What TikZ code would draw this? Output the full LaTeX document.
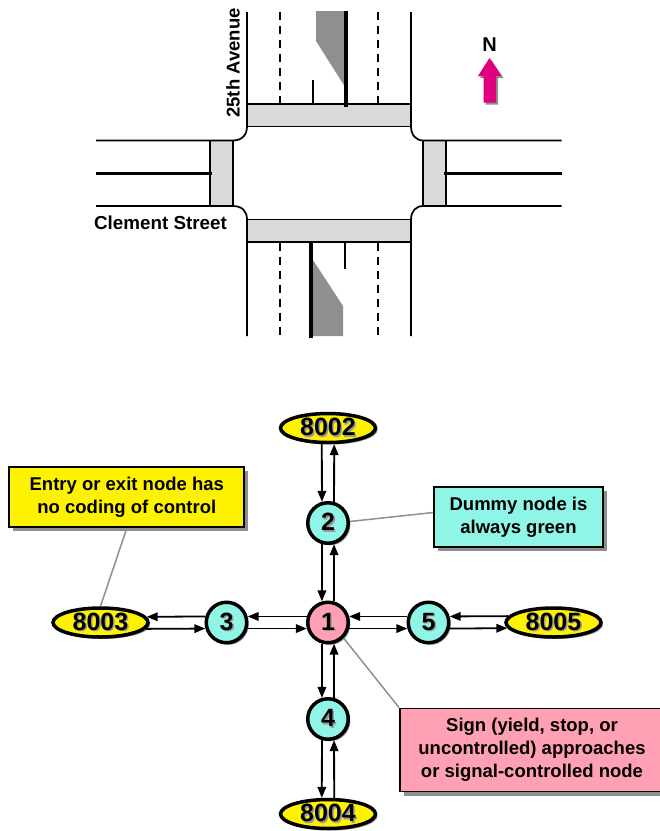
\documentclass[tikz,border=0pt]{standalone}
\usepackage{fontspec}
\setmainfont{Liberation Sans}
\usepackage{tikz}
\usetikzlibrary{arrows.meta,shadows,shapes.geometric}
\definecolor{figaqua}{HTML}{8FF5E6}
\definecolor{figpink}{HTML}{FFA0B4}
\definecolor{figmagenta}{HTML}{E0007F}
\definecolor{figwalk}{HTML}{D9D9D9}
\definecolor{figgray}{HTML}{8F8F8F}
\newcommand{\figshadowed}[1]{\makebox[0pt][l]{\kern1.5pt\raisebox{-1.5pt}{\textcolor{black!40}{#1}}}#1}
\tikzset{
  figroad/.style={line width=1.7pt},
  figmedian/.style={line width=3.7pt},
  figlane/.style={line width=1.7pt, dash pattern=on 8pt off 6pt},
  figwalkbox/.style={fill=figwalk, draw, line width=1.7pt},
  figlabel/.style={font=\fontsize{18.5}{23}\selectfont\bfseries, inner sep=0pt},
  figcircle/.style={circle, draw, line width=3.5pt, minimum size=40.5pt, inner sep=0pt,
    font=\fontsize{25}{25}\selectfont\bfseries,
    drop shadow={shadow xshift=2pt, shadow yshift=-2pt, fill=black!45, opacity=1}},
  fignode/.style={figcircle, fill=figaqua},
  figend/.style={ellipse, draw, line width=3.5pt, fill=yellow, minimum width=95pt, minimum height=29pt,
    inner sep=0pt, font=\fontsize{25}{25}\selectfont\bfseries,
    drop shadow={shadow xshift=2pt, shadow yshift=-2pt, fill=black!45, opacity=1}},
  fignote/.style={draw, line width=1.8pt, align=center, inner sep=0pt,
    font=\fontsize{18.5}{23}\selectfont\bfseries,
    drop shadow={shadow xshift=4pt, shadow yshift=-4pt, fill=figgray, opacity=1}},
  figarrow/.style={-{Triangle[length=11pt, width=8.5pt]}, line width=1.8pt},
  figleader/.style={draw=figgray, line width=1.5pt},
}
\begin{document}
\begin{tikzpicture}[x=1pt, y=-1pt]
  \useasboundingbox (0,0) rectangle (660,831);
  % crosswalks
  \filldraw[figwalkbox] (247,104) rectangle (411,126.5);
  \filldraw[figwalkbox] (247,219.5) rectangle (411,242);
  \filldraw[figwalkbox] (210,140.5) rectangle (232.7,206);
  \filldraw[figwalkbox] (423.3,140.5) rectangle (445.7,206);
  % kerbs and corners
  \draw[figroad] (247,12) -- (247,126.5) .. controls (247,135) and (242,140.5) .. (232.7,140.5) -- (96,140.5);
  \draw[figroad] (411,12) -- (411,126.5) .. controls (411,135) and (416,140.5) .. (423.3,140.5) -- (561.5,140.5);
  \draw[figroad] (96,206) -- (232.7,206) .. controls (242,206) and (247,211) .. (247,219.5) -- (247,336);
  \draw[figroad] (561.5,206) -- (423.3,206) .. controls (416,206) and (411,211) .. (411,219.5) -- (411,336);
  % lanes
  \foreach \xlane in {280,378} {
    \draw[figlane] (\xlane,12) -- (\xlane,104);
    \draw[figlane] (\xlane,242.5) -- (\xlane,336);
  }
  \draw[figroad] (312.7,80) -- (312.7,104);
  \draw[figroad] (345,242) -- (345,268.5);
  \fill[figgray] (316,11) -- (344.5,11) -- (344.5,86) -- (316,41) -- cycle;
  \fill[figgray] (313,260) -- (343,306) -- (343,336) -- (313,336) -- cycle;
  \draw[figmedian] (346,11) -- (346,107);
  \draw[figmedian] (311,241) -- (311,337.5);
  \draw[figmedian] (96,173.5) -- (212,173.5);
  \draw[figmedian] (444,173.5) -- (562,173.5);
  % street names
  \node[figlabel, rotate=90] (avenue) at (233,63) {25th Avenue};
  \node[figlabel, font=\fontsize{18.8}{23}\selectfont\bfseries] (street) at (160.5,222.5) {Clement Street};
  % north arrow
  \node[figlabel, font=\fontsize{20}{23}\selectfont\bfseries] (north) at (489.5,44.5) {N};
  \fill[figgray] (491.5,60) -- (503.5,78) -- (498,78) -- (498,104.5) -- (485.5,104.5) -- (485.5,78) -- (480,78) -- cycle;
  \fill[figmagenta] (489.5,58) -- (501.5,76) -- (496,76) -- (496,102.5) -- (483.5,102.5) -- (483.5,76) -- (478,76) -- cycle;
  % nodes
  \node[figcircle, fill=figpink] (n1) at (328,622.5) {\figshadowed{1}};
  \node[fignode] (n2) at (328,523) {\figshadowed{2}};
  \node[fignode] (n3) at (226.5,622.5) {\figshadowed{3}};
  \node[fignode] (n4) at (328,719) {\figshadowed{4}};
  \node[fignode] (n5) at (428.5,622.5) {\figshadowed{5}};
  \node[figend] (n8002) at (328,428) {\figshadowed{8002}};
  \node[figend] (n8003) at (100.5,622.5) {\figshadowed{8003}};
  \node[figend] (n8004) at (328,814) {\figshadowed{8004}};
  \node[figend] (n8005) at (553.5,622.5) {\figshadowed{8005}};
  % links
  \draw[figarrow] (n8002.249) -- (n2.106);
  \draw[figarrow] (n2.74) -- (n8002.291);
  \draw[figarrow] (n2.254) -- (n1.106);
  \draw[figarrow] (n1.74) -- (n2.286);
  \draw[figarrow] (n1.254) -- (n4.106);
  \draw[figarrow] (n4.74) -- (n1.286);
  \draw[figarrow] (n4.254) -- (n8004.111);
  \draw[figarrow] (n8004.69) -- (n4.286);
  \draw[figarrow] (n1.164) -- (n3.16);
  \draw[figarrow] (n3.344) -- (n1.196);
  \draw[figarrow] (n3.164) -- (n8003.7.5);
  \draw[figarrow] (n8003.352.5) -- (n3.196);
  \draw[figarrow] (n5.164) -- (n1.16);
  \draw[figarrow] (n1.344) -- (n5.196);
  \draw[figarrow] (n8005.172.5) -- (n5.16);
  \draw[figarrow] (n5.344) -- (n8005.187.5);
  % notes
  \node[fignote, fill=yellow, minimum width=235pt, minimum height=60.5pt] (noteentry) at (126.8,497) {Entry or exit node has\\no coding of control};
  \node[fignote, fill=figaqua, minimum width=169pt, minimum height=60pt] (notedummy) at (518.5,517) {Dummy node is\\always green};
  \node[fignote, fill=figpink, minimum width=264pt, minimum height=83pt] (notesign) at (532,750) {Sign (yield, stop, or\\uncontrolled) approaches\\or signal-controlled node};
  \draw[figleader] (noteentry.south) -- (n8003.north);
  \draw[figleader] (n2.4) -- (notedummy.177);
  \draw[figleader] (n1.-45) -- (notesign.north west);
\end{tikzpicture}
\end{document}
